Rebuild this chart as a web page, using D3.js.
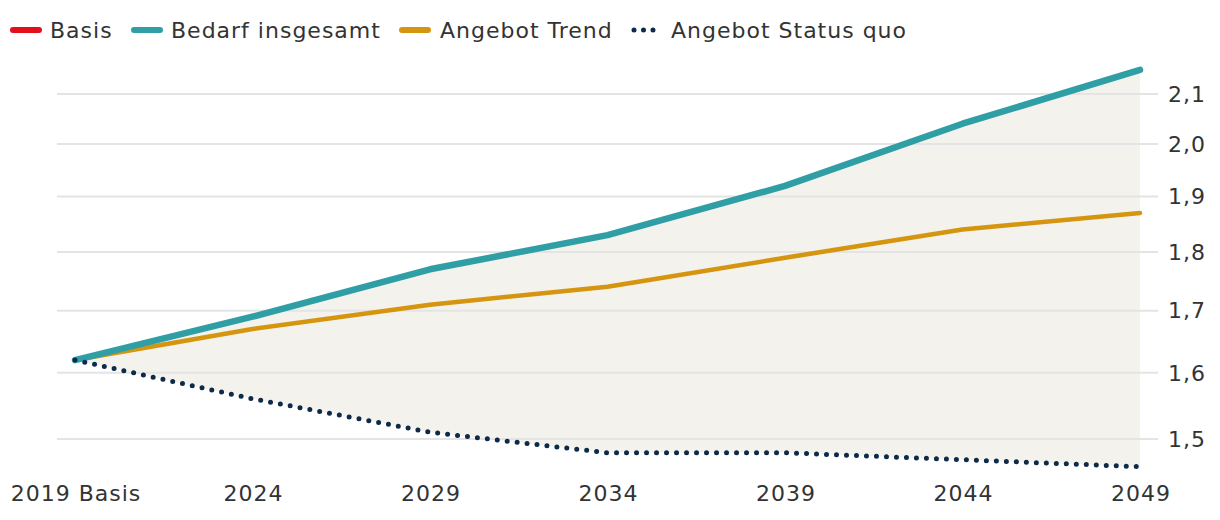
<!DOCTYPE html>
<html><head><meta charset="utf-8">
<script src="https://cdn.jsdelivr.net/npm/d3@7"></script>
<style>body{margin:0;background:#fff;} text{font-family:"DejaVu Sans",Verdana,sans-serif;fill:#333;letter-spacing:1px;}</style>
</head><body>
<svg id="c" width="1220" height="520"></svg>
<script>
const years = [2019, 2024, 2029, 2034, 2039, 2044, 2049];
const xLabels = ["2019 Basis", "2024", "2029", "2034", "2039", "2044", "2049"];
const bedarf = [1.62, 1.69, 1.77, 1.83, 1.92, 2.04, 2.15];
const trend = [1.62, 1.67, 1.71, 1.74, 1.79, 1.84, 1.87];
const statusQuo = [1.62, 1.56, 1.51, 1.48, 1.48, 1.47, 1.46];
const yTicks = [1.5, 1.6, 1.7, 1.8, 1.9, 2.0, 2.1];
const legendNames = ["Basis", "Bedarf insgesamt", "Angebot Trend", "Angebot Status quo"];
const colors = {basis:"#e30f1b", bedarf:"#2f9fa5", trend:"#d5950f", sq:"#0d2a4a"};

const svg = d3.select("#c");
const x = d3.scaleLinear().domain([2019, 2049]).range([75, 1140]);
const y = d3.scaleLog().domain([1.5, 2.1]).range([439, 94]);

// area
const area = d3.area().x((d,i)=>x(years[i])).y0((d,i)=>y(statusQuo[i])).y1((d,i)=>y(bedarf[i]));
svg.append("path").datum(bedarf).attr("d", area).attr("fill", "#f3f2ed");

// grid
svg.append("g").selectAll("line").data(yTicks).join("line")
  .attr("x1", 57).attr("x2", 1158).attr("y1", d=>y(d)).attr("y2", d=>y(d))
  .attr("stroke", "#e4e4e4").attr("stroke-width", 2);

// y axis labels
const fmt = d3.format(".1f");
svg.append("g").selectAll("text").data(yTicks).join("text")
  .attr("x", 1168).attr("y", d=>y(d)).attr("dy", "0.35em")
  .attr("font-size", 22).text(d=>fmt(d).replace(".", ","));

// x labels
svg.append("g").selectAll("text").data(years).join("text")
  .attr("x", d=>x(d)+1).attr("y", 501).attr("text-anchor","middle")
  .attr("font-size", 22).text((d,i)=>xLabels[i]);

const line = d3.line().x((d,i)=>x(years[i])).y(d=>y(d));
svg.append("path").datum(trend).attr("d", line).attr("fill","none")
  .attr("stroke", colors.trend).attr("stroke-width", 4.5).attr("stroke-linecap","round").attr("stroke-linejoin","round");
svg.append("path").datum(bedarf).attr("d", line).attr("fill","none")
  .attr("stroke", colors.bedarf).attr("stroke-width", 6.5).attr("stroke-linecap","round").attr("stroke-linejoin","round");
svg.append("path").datum(statusQuo).attr("d", line).attr("fill","none")
  .attr("stroke", colors.sq).attr("stroke-width", 5).attr("stroke-dasharray","0 10").attr("stroke-linecap","round");

// legend
const legend = [
  {name: legendNames[0], c: colors.basis, sx: 10, tx: 50, dotted:false},
  {name: legendNames[1], c: colors.bedarf, sx: 131, tx: 171, dotted:false},
  {name: legendNames[2], c: colors.trend, sx: 399, tx: 440, dotted:false},
  {name: legendNames[3], c: colors.sq, sx: 634, tx: 671, dotted:true}
];
const lg = svg.append("g");
legend.forEach(l=>{
  if (l.dotted) {
    lg.append("line").attr("x1", l.sx).attr("x2", l.sx+26).attr("y1", 30).attr("y2", 30)
      .attr("stroke", l.c).attr("stroke-width", 5).attr("stroke-linecap","round").attr("stroke-dasharray","0 9.5");
  } else {
    lg.append("line").attr("x1", l.sx+3).attr("x2", l.sx+29).attr("y1", 30).attr("y2", 30)
      .attr("stroke", l.c).attr("stroke-width", 6).attr("stroke-linecap","round");
  }
  lg.append("text").attr("x", l.tx).attr("y", 30).attr("dy","0.35em").attr("font-size", 22).text(l.name);
});
</script>
</body></html>
